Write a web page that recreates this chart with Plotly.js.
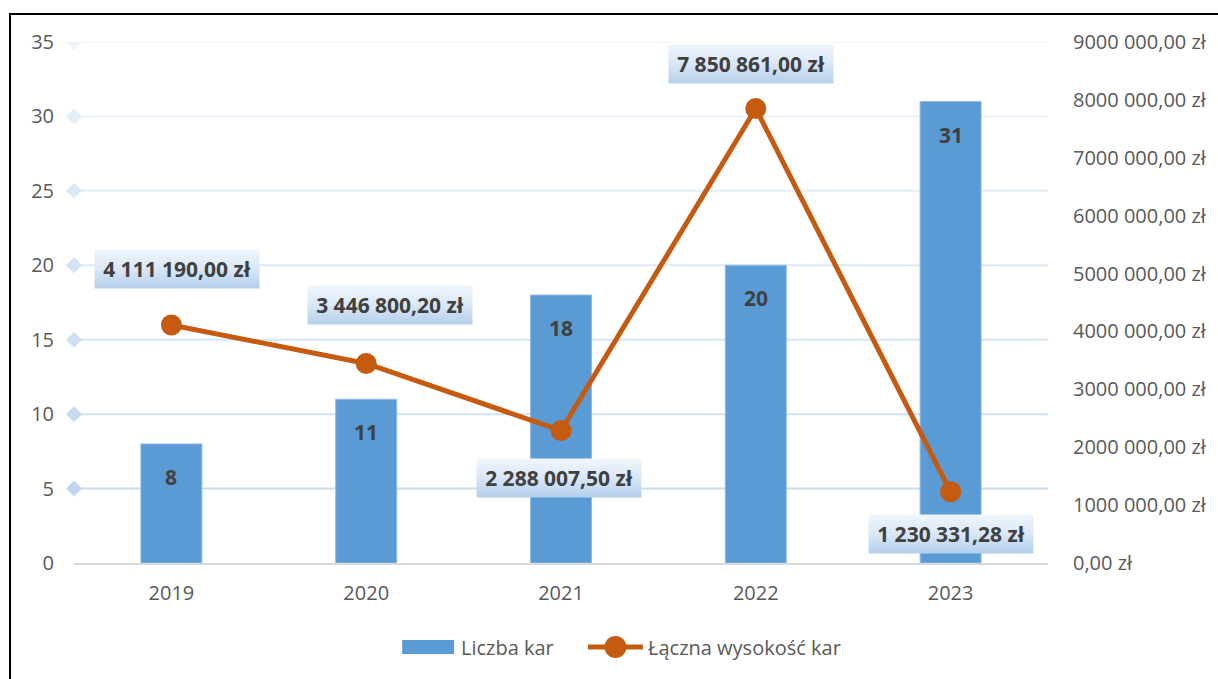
<!DOCTYPE html>
<html><head><meta charset="utf-8">
<script src="https://cdn.plot.ly/plotly-3.0.1.min.js"></script>
<style>
html,body{margin:0;padding:0;overflow:hidden;background:#fff}
#chart{position:absolute;left:0;top:0;width:1218px;height:679px}
#frame{position:absolute;left:9px;top:13px;width:1400px;height:900px;border-left:2px solid #000;border-top:2px solid #000;pointer-events:none}
</style></head><body>
<div id="chart"></div><div id="frame"></div>
<script>
// ---- data ----
const years = ['2019', '2020', '2021', '2022', '2023'];
const liczbaKar = [8, 11, 18, 20, 31];
const lacznaWysokosc = [4111190.00, 3446800.20, 2288007.50, 7850861.00, 1230331.28];
const leftTickVals = [0, 5, 10, 15, 20, 25, 30, 35];
const gridVals = [5, 10, 15, 20, 25, 30, 35];
const rightTickVals = [0, 1000000, 2000000, 3000000, 4000000, 5000000, 6000000, 7000000, 8000000, 9000000];
const rightTickText = ['0,00 zł', '1000 000,00 zł', '2000 000,00 zł', '3000 000,00 zł', '4000 000,00 zł',
  '5000 000,00 zł', '6000 000,00 zł', '7000 000,00 zł', '8000 000,00 zł', '9000 000,00 zł'];
const seriesNames = ['Liczba kar', 'Łączna wysokość kar'];

// ---- styles ----
const BAR_COLOR = '#5b9bd5', LINE_COLOR = '#c55a11';
const gridColors = ['#c8ddf1', '#cfe1f3', '#d6e6f5', '#dde9f6', '#e4eef8', '#ebf2fa', '#f1f6fc'];
const diamondColors = ['#bfd6ee', '#c6dbf0', '#cde0f2', '#d4e4f4', '#dbe9f6', '#e3eef8', '#ecf3fa'];
const labelShift = [[6, -56], [23.5, -58.5], [-2, 47.5], [-5, -45], [0, 42.5]];
const FONT = 'Open Sans, Noto Sans, sans-serif';
const M = {l: 73.5, r: 169.5, t: 42, b: 116};
const PW = 1218 - M.l - M.r, PH = 679 - M.t - M.b;
const px = x => (x - M.l) / PW;            // pixel -> paper x
const py = y => (679 - M.b - y) / PH;      // pixel -> paper y

function fmtPLN(v) {
  const parts = v.toFixed(2).split('.');
  const intPart = parts[0].replace(/\B(?=(\d{3})+(?!\d))/g, ' ');
  return intPart + ',' + parts[1] + ' zł';
}

const barTrace = {
  type: 'bar', x: years, y: liczbaKar, name: seriesNames[0],
  marker: {color: BAR_COLOR, line: {color: '#8fbbe5', width: 1}},
  hoverinfo: 'skip', showlegend: false
};
const lineTrace = {
  type: 'scatter', mode: 'lines+markers', x: years, y: lacznaWysokosc, yaxis: 'y2', name: seriesNames[1],
  line: {color: LINE_COLOR, width: 5},
  marker: {color: LINE_COLOR, size: 21},
  cliponaxis: false, hoverinfo: 'skip', showlegend: false
};

const shapes = [];
gridVals.forEach((v, i) => {
  shapes.push({
    type: 'line', xref: 'paper', x0: 0, x1: 1, yref: 'y', y0: v, y1: v,
    line: {color: gridColors[i], width: 2}, layer: 'below'
  });
});
gridVals.forEach((v, i) => {
  shapes.push({
    type: 'path', xref: 'paper', xsizemode: 'pixel', xanchor: 0,
    yref: 'y', ysizemode: 'pixel', yanchor: v,
    path: 'M-8,0 L0,8 L8,0 L0,-8 Z',
    fillcolor: diamondColors[i], line: {width: 0}, layer: 'above'
  });
});
// legend (custom, Excel-like)
const LEG_Y = 647;
shapes.push({type: 'rect', xref: 'paper', yref: 'paper', x0: px(402), x1: px(454), y0: py(654), y1: py(640),
  fillcolor: BAR_COLOR, line: {width: 0}});
shapes.push({type: 'line', xref: 'paper', yref: 'paper', x0: px(588), x1: px(643), y0: py(LEG_Y), y1: py(LEG_Y),
  line: {color: LINE_COLOR, width: 5}});
shapes.push({type: 'circle', xref: 'paper', yref: 'paper', xsizemode: 'pixel', ysizemode: 'pixel',
  xanchor: px(615.5), yanchor: py(LEG_Y), x0: -11, x1: 11, y0: -11, y1: 11,
  fillcolor: LINE_COLOR, line: {width: 0}});

const annotations = [];
lacznaWysokosc.forEach((v, i) => {
  annotations.push({
    xref: 'x', yref: 'y2', x: i, y: v, showarrow: false,
    text: fmtPLN(v), xshift: labelShift[i][0], yshift: -labelShift[i][1],
    width: 164, height: 38, borderpad: 0, bgcolor: '#d5e4f4',
    font: {family: FONT, size: 21, color: '#404040', weight: 700}
  });
});
liczbaKar.forEach((v, i) => {
  annotations.push({
    xref: 'x', yref: 'y', x: i, y: v, showarrow: false,
    text: String(v), yshift: -33,
    font: {family: FONT, size: 21, color: '#404040', weight: 700}
  });
});
annotations.push({xref: 'paper', yref: 'paper', x: px(459), y: py(LEG_Y), xanchor: 'left', yanchor: 'middle',
  showarrow: false, text: seriesNames[0], font: {family: FONT, size: 20, color: '#595959'}});
annotations.push({xref: 'paper', yref: 'paper', x: px(646), y: py(LEG_Y), xanchor: 'left', yanchor: 'middle',
  showarrow: false, text: seriesNames[1], font: {family: FONT, size: 20, color: '#595959'}});

const layout = {
  width: 1218, height: 679,
  margin: {l: M.l, r: M.r, t: M.t, b: M.b, pad: 0},
  paper_bgcolor: '#ffffff', plot_bgcolor: 'rgba(0,0,0,0)',
  font: {family: FONT, size: 20, color: '#595959'},
  showlegend: false,
  bargap: 0.687,
  xaxis: {type: 'category', range: [-0.5, years.length - 0.5], showgrid: false, zeroline: false,
    showline: true, linecolor: '#d9d9d9', linewidth: 2,
    ticks: '', ticklabelstandoff: 11, tickfont: {size: 20, color: '#595959'}},
  yaxis: {range: [0, 35], tickvals: leftTickVals, showgrid: false, zeroline: false, ticks: '',
    ticklabelstandoff: 19, tickfont: {size: 20, color: '#595959'}},
  yaxis2: {overlaying: 'y', side: 'right', range: [0, 9000000], tickvals: rightTickVals, ticktext: rightTickText,
    showgrid: false, zeroline: false, ticks: '', ticklabelstandoff: 24, tickfont: {size: 20, color: '#595959'}},
  shapes: shapes,
  annotations: annotations
};

Plotly.newPlot('chart', [barTrace, lineTrace], layout, {staticPlot: true, displayModeBar: false}).then(gd => {
  const NS = 'http://www.w3.org/2000/svg';
  const groups = gd.querySelectorAll('g.annotation');
  groups.forEach(g => {
    const idx = +g.getAttribute('data-index');
    if (idx >= lacznaWysokosc.length) return;
    const rect = g.querySelector('rect.bg');
    if (!rect) return;
    const svg = rect.ownerSVGElement;
    let defs = svg.querySelector('defs#lblDefs');
    if (!defs) {
      defs = document.createElementNS(NS, 'defs');
      defs.setAttribute('id', 'lblDefs');
      const lg = document.createElementNS(NS, 'linearGradient');
      lg.setAttribute('id', 'lblGrad');
      lg.setAttribute('x1', '0'); lg.setAttribute('y1', '0');
      lg.setAttribute('x2', '0'); lg.setAttribute('y2', '1');
      [['0%', '#f0f6fc'], ['50%', '#d9e7f6'], ['100%', '#b4cfeb']].forEach(s => {
        const st = document.createElementNS(NS, 'stop');
        st.setAttribute('offset', s[0]); st.setAttribute('stop-color', s[1]);
        lg.appendChild(st);
      });
      defs.appendChild(lg);
      svg.insertBefore(defs, svg.firstChild);
    }
    rect.style.fill = 'url(#lblGrad)';
    rect.style.fillOpacity = '1';
  });
});
</script>
</body></html>
